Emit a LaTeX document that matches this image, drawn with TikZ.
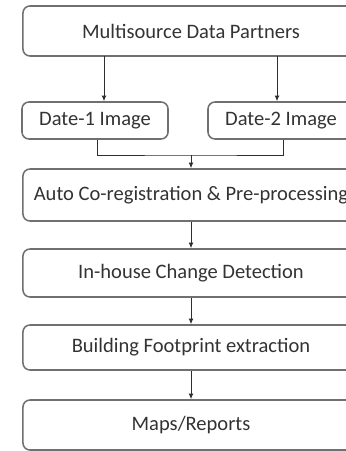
\documentclass[tikz,border=0pt]{standalone}
\usepackage{fontspec}
\setmainfont{Carlito}
\usetikzlibrary{arrows.meta}
\definecolor{boxline}{HTML}{707070}
\definecolor{boxtext}{HTML}{333333}
\definecolor{wire}{HTML}{2E2E2E}
\tikzset{
    stage/.style={draw=boxline, line width=1.1pt, rounded corners=5pt, fill=white,
        text=boxtext, font=\fontsize{14.6}{16}\selectfont,
        minimum width=8.4cm, minimum height=#1, inner sep=0pt},
    stage/.default=1.25cm,
    imagebox/.style={stage=0.925cm, minimum width=3.65cm},
    flow/.style={draw=wire, line width=0.7pt, -{Latex[length=4pt,width=3.5pt]}},
    link/.style={draw=wire, line width=0.7pt}
}
\begin{document}
\begin{tikzpicture}[x=0.025cm, y=-0.025cm]
                \useasboundingbox (0,0) rectangle (346,451);
                \clip (0,0) rectangle (346,451);
                \fill[white] (0,0) rectangle (346,451);
                \node[stage] (partners) at (191,31) {Multisource Data Partners};
                \node[imagebox] (date1) at (95,120.5) {Date-1 Image};
                \node[imagebox] (date2) at (281,120.5) {Date-2 Image};
                \node[stage=1.3cm] (coreg) at (191,195) {Auto Co-registration \& Pre-processing};
                \node[stage=1.2cm] (change) at (191,273) {In-house Change Detection};
                \node[stage=1.125cm] (footprint) at (191,347.5) {Building Footprint extraction};
                \node[stage] (maps) at (191,425) {Maps/Reports};
                \coordinate (feed1) at (104,56);
                \coordinate (feed2) at (277,56);
                \coordinate (join) at (191,155);
                \draw[flow] (feed1) -- (feed1 |- date1.north);
                \draw[flow] (feed2) -- (feed2 |- date2.north);
                \draw[link] ([xshift=2pt]date1.south) |- (join) -| ([xshift=2pt]date2.south);
                \draw[flow] (join) -- (coreg.north);
                \draw[flow] (coreg) -- (change);
                \draw[flow] (change) -- (footprint);
                \draw[flow] (footprint) -- (maps);
            \end{tikzpicture}
\end{document}
